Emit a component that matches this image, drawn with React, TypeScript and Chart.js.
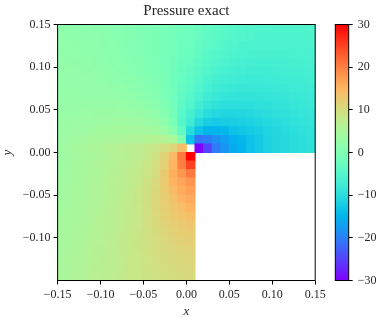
import React, { useEffect, useRef } from "react";
import { Chart, registerables } from "chart.js";

Chart.register(...registerables);

const chartTitle = "Pressure exact";
const xAxisLabel = "x";
const yAxisLabel = "y";
const xAxisTicks = [-0.15, -0.1, -0.05, 0, 0.05, 0.1, 0.15];
const yAxisTicks = [-0.1, -0.05, 0, 0.05, 0.1, 0.15];
const colorbarTicks = [-30, -20, -10, 0, 10, 20, 30];
const colorMin = -30;
const colorMax = 30;

const cellXCentres = [
  -0.145, -0.135, -0.125, -0.115, -0.105, -0.095, -0.085, -0.075, -0.065, -0.055,
  -0.045, -0.035, -0.025, -0.015, -0.005, 0.005, 0.015, 0.025, 0.035, 0.045,
  0.055, 0.065, 0.075, 0.085, 0.095, 0.105, 0.115, 0.125, 0.135, 0.145,
];
const cellYCentres = [
  0.145, 0.135, 0.125, 0.115, 0.105, 0.095, 0.085, 0.075, 0.065, 0.055,
  0.045, 0.035, 0.025, 0.015, 0.005, -0.005, -0.015, -0.025, -0.035, -0.045,
  -0.055, -0.065, -0.075, -0.085, -0.095, -0.105, -0.115, -0.125, -0.135, -0.145,
];

// Rows run from the top of the plot; null means an empty cell. The lower rows stop at x = 0.01.
const pressureRows: (number | null)[][] = [
  [1.8,1.7,1.6,1.5,1.4,1.2,1,0.7,0.4,0.1,-0.2,-0.6,-0.9,-1.3,-1.7,-1.9,-2.6,-3.3,-3.9,-4.4,-4.8,-5.1,-5.3,-5.5,-5.6,-5.7,-5.7,-5.7,-5.7,-5.6],
  [1.9,1.8,1.7,1.6,1.5,1.3,1,0.8,0.5,0.1,-0.2,-0.6,-1,-1.4,-1.9,-2.1,-2.9,-3.6,-4.2,-4.7,-5.1,-5.4,-5.6,-5.8,-5.9,-5.9,-5.9,-5.9,-5.9,-5.8],
  [2,1.9,1.8,1.7,1.6,1.4,1.1,0.8,0.5,0.2,-0.2,-0.6,-1,-1.5,-2.1,-2.3,-3.2,-4,-4.6,-5.1,-5.5,-5.8,-6,-6.1,-6.2,-6.2,-6.2,-6.2,-6.1,-6],
  [2.1,2,1.9,1.8,1.7,1.5,1.2,1,0.7,0.3,-0.1,-0.5,-1,-1.6,-2.2,-2.6,-3.5,-4.4,-5,-5.5,-5.9,-6.2,-6.4,-6.5,-6.5,-6.5,-6.5,-6.4,-6.4,-6.3],
  [2.2,2.1,2.1,2,1.8,1.6,1.4,1.1,0.8,0.5,0,-0.4,-1,-1.7,-2.4,-2.9,-3.9,-4.8,-5.5,-6,-6.4,-6.6,-6.8,-6.9,-6.9,-6.9,-6.8,-6.7,-6.6,-6.5],
  [2.3,2.3,2.2,2.1,2,1.8,1.6,1.3,1,0.7,0.2,-0.3,-0.9,-1.7,-2.7,-3.3,-4.4,-5.3,-6,-6.6,-6.9,-7.1,-7.3,-7.3,-7.3,-7.2,-7.1,-7,-6.9,-6.8],
  [2.4,2.4,2.3,2.3,2.2,2,1.8,1.6,1.3,0.9,0.5,-0.1,-0.8,-1.7,-2.9,-3.7,-4.9,-5.9,-6.7,-7.2,-7.5,-7.7,-7.8,-7.8,-7.7,-7.6,-7.5,-7.4,-7.3,-7.1],
  [2.5,2.5,2.5,2.5,2.4,2.3,2.1,1.9,1.6,1.2,0.8,0.2,-0.6,-1.7,-3.2,-4.2,-5.5,-6.6,-7.4,-7.9,-8.2,-8.3,-8.3,-8.3,-8.2,-8,-7.9,-7.7,-7.6,-7.4],
  [2.6,2.7,2.7,2.7,2.6,2.5,2.4,2.2,2,1.6,1.2,0.6,-0.3,-1.6,-3.6,-4.8,-6.2,-7.4,-8.2,-8.7,-8.9,-9,-9,-8.9,-8.7,-8.5,-8.3,-8.1,-7.9,-7.8],
  [2.7,2.8,2.9,2.9,2.9,2.8,2.8,2.6,2.4,2.2,1.8,1.1,0.2,-1.5,-4,-5.5,-7.2,-8.5,-9.2,-9.7,-9.8,-9.8,-9.7,-9.5,-9.3,-9,-8.8,-8.5,-8.3,-8.1],
  [2.9,3,3.1,3.1,3.2,3.2,3.2,3.1,3,2.8,2.5,1.9,0.7,-1.3,-4.5,-6.5,-8.5,-10,-10.7,-11,-11,-10.8,-10.6,-10.2,-9.9,-9.6,-9.3,-9,-8.7,-8.5],
  [3,3.2,3.3,3.4,3.5,3.6,3.7,3.7,3.7,3.6,3.4,2.9,1.8,-0.7,-5,-7.5,-10.5,-12,-12.5,-12.3,-12,-11.8,-11.5,-11,-10.6,-10.2,-9.8,-9.4,-9.1,-8.8],
  [3.2,3.4,3.6,3.8,4,4.1,4.3,4.4,4.5,4.5,4.5,4.2,3.3,0.8,-3.5,-10,-13.5,-15,-15,-14.5,-13.5,-13,-12.5,-12,-11.3,-10.8,-10.3,-9.8,-9.5,-9.2],
  [3.4,3.7,4,4.3,4.6,4.9,5.1,5.3,5.5,5.7,5.9,6,6,5,0,-13.5,-21,-20,-18.5,-17,-15.5,-14.5,-13.5,-12.5,-11.5,-11,-10.5,-10,-9.7,-9.3],
  [3.8,4.2,4.6,5,5.4,5.8,6.2,6.6,7,7.5,8,8.6,9.6,11,14,null,-30,-25,-20.5,-18,-16,-15,-13.5,-12.5,-11.5,-11,-10.5,-10,-9.8,-9.5],
  [3.6,4,4.4,4.8,5.2,5.6,6,6.4,6.9,7.5,8.2,9.2,11.5,14.5,20.5,30],
  [3.7,4.1,4.5,4.9,5.3,5.7,6.1,6.6,7.1,7.7,8.5,9.8,11.8,15,20,25],
  [3.8,4.2,4.6,5,5.4,5.8,6.3,6.8,7.3,8,8.9,10,12.5,15.5,18,20.5],
  [3.9,4.3,4.7,5.1,5.5,5.9,6.4,6.9,7.5,8.2,9.2,10.5,12.5,15,16.5,18],
  [4,4.4,4.8,5.2,5.6,6,6.5,7,7.6,8.4,9.4,10.7,12.4,14.2,15.8,17],
  [4.1,4.5,4.9,5.3,5.7,6.1,6.6,7.1,7.7,8.5,9.5,10.7,12.2,13.5,15,16],
  [4.2,4.6,5,5.4,5.8,6.2,6.7,7.2,7.8,8.6,9.5,10.7,11.9,13,14,15],
  [4.3,4.7,5.1,5.5,5.9,6.3,6.8,7.3,7.9,8.6,9.5,10.6,11.7,12.6,13.3,14],
  [4.4,4.8,5.2,5.6,6,6.4,6.9,7.4,8,8.6,9.5,10.5,11.2,12,12.7,13],
  [4.5,4.9,5.3,5.7,6.1,6.5,7,7.5,8.1,8.7,9.4,10.2,10.9,11.6,12.1,12.3],
  [4.6,5,5.4,5.8,6.2,6.6,7.1,7.6,8.1,8.7,9.3,10,10.6,11.2,11.6,11.8],
  [4.7,5.1,5.5,5.9,6.3,6.7,7.2,7.6,8.1,8.7,9.2,9.8,10.3,10.8,11.1,11.3],
  [4.8,5.2,5.6,6,6.4,6.8,7.2,7.7,8.2,8.6,9.1,9.6,10.1,10.5,10.8,11],
  [4.9,5.3,5.7,6.1,6.5,6.9,7.3,7.7,8.2,8.6,9.1,9.5,9.9,10.2,10.5,10.7],
  [5,5.4,5.8,6.2,6.6,7,7.4,7.8,8.2,8.6,9,9.3,9.6,9.9,10.2,10.4],
];

type Cell = { x: number; y: number; v: number };

const cells: Cell[] = [];
pressureRows.forEach((row, r) => {
  row.forEach((v, c) => {
    if (v !== null) cells.push({ x: cellXCentres[c], y: cellYCentres[r], v });
  });
});

// matplotlib "rainbow" colormap
function rainbow(t: number): string {
  const x = Math.max(0, Math.min(1, t));
  const r = Math.abs(2 * x - 0.5);
  const g = Math.sin(Math.PI * x);
  const b = Math.cos((Math.PI * x) / 2);
  const to255 = (c: number) => Math.round(Math.max(0, Math.min(1, c)) * 255);
  return `rgb(${to255(r)},${to255(g)},${to255(b)})`;
}
const colorFor = (v: number) => rainbow((v - colorMin) / (colorMax - colorMin));

const fontFamily = '"Liberation Serif", serif';
const textColor = "#262626";

const WIDTH = 387;
const HEIGHT = 317;
const plotLeft = 57.6;
const plotRight = 315.2;
const plotTop = 24.5;
const plotBottom = 280.5;
const barLeft = 335.3;
const barRight = 348.7;

const frame = {
  id: "frame",
  afterDraw(chart: any) {
    const { ctx, chartArea: a } = chart;
    ctx.save();
    ctx.strokeStyle = "#000";
    ctx.lineWidth = 1;
    ctx.strokeRect(a.left, a.top, a.right - a.left, a.bottom - a.top);
    ctx.restore();
  },
};

const tickFont = { family: fontFamily, size: 12 };
const tickGrid = {
  drawOnChartArea: false,
  drawTicks: true,
  tickLength: 4,
  tickColor: "#000",
  tickWidth: 1,
};
const fmt = (v: number) => (v < 0 ? "\u2212" : "") + Math.abs(v).toFixed(2);

export default function App() {
  const mainRef = useRef<HTMLCanvasElement>(null);
  const barRef = useRef<HTMLCanvasElement>(null);

  useEffect(() => {
    const main = new Chart(mainRef.current as HTMLCanvasElement, {
      type: "scatter",
      data: {
        datasets: [
          {
            label: "pressure",
            data: cells as any,
            pointStyle: "rect",
            pointBorderWidth: 0,
            pointBackgroundColor: (c: any) => colorFor(c.raw ? c.raw.v : 0),
            pointRadius: (c: any) => {
              const s = c.chart.scales.x;
              const w = Math.abs(s.getPixelForValue(0.01) - s.getPixelForValue(0));
              return (w + 1) / Math.SQRT2;
            },
          },
        ],
      },
      options: {
        responsive: false,
        animation: false,
        events: [],
        layout: { padding: { left: 0, top: 0, right: WIDTH - plotRight, bottom: 0 } },
        plugins: {
          legend: { display: false },
          tooltip: { enabled: false },
          title: {
            display: true,
            text: chartTitle,
            fullSize: false,
            color: textColor,
            font: { family: fontFamily, size: 15, weight: "normal", lineHeight: 1.2 },
            padding: { top: 2, bottom: 4.5 },
          },
        },
        scales: {
          x: {
            type: "linear",
            min: -0.15,
            max: 0.15,
            afterBuildTicks: (s: any) => {
              s.ticks = xAxisTicks.map((value) => ({ value }));
            },
            afterFit: (s: any) => {
              s.height = HEIGHT - plotBottom;
            },
            grid: tickGrid,
            border: { display: false },
            ticks: {
              color: textColor,
              font: tickFont,
              padding: 3,
              maxRotation: 0,
              autoSkip: false,
              callback: (v: any) => fmt(Number(v)),
            },
            title: {
              display: true,
              text: xAxisLabel,
              color: textColor,
              font: { family: fontFamily, size: 13, style: "italic", lineHeight: 0.8 },
              padding: 0,
            },
          },
          y: {
            type: "linear",
            min: -0.15,
            max: 0.15,
            afterBuildTicks: (s: any) => {
              s.ticks = yAxisTicks.map((value) => ({ value }));
            },
            afterFit: (s: any) => {
              s.width = plotLeft;
            },
            grid: tickGrid,
            border: { display: false },
            ticks: {
              color: textColor,
              font: tickFont,
              padding: 3,
              autoSkip: false,
              callback: (v: any) => fmt(Number(v)),
            },
            title: {
              display: true,
              text: yAxisLabel,
              color: textColor,
              font: { family: fontFamily, size: 13, style: "italic" },
              padding: 0,
            },
          },
        },
      } as any,
      plugins: [frame],
    });

    const bar = new Chart(barRef.current as HTMLCanvasElement, {
      type: "bar",
      data: {
        labels: ["colorbar"],
        datasets: [
          {
            data: [[colorMin, colorMax]] as any,
            barPercentage: 1,
            categoryPercentage: 1,
            borderWidth: 0,
            backgroundColor: (c: any) => {
              const a = c.chart.chartArea;
              if (!a) return "#000";
              const g = c.chart.ctx.createLinearGradient(0, a.bottom, 0, a.top);
              for (let i = 0; i <= 32; i++) g.addColorStop(i / 32, rainbow(i / 32));
              return g;
            },
          },
        ],
      },
      options: {
        responsive: false,
        animation: false,
        events: [],
        layout: {
          padding: { left: barLeft, top: plotTop, right: 0, bottom: HEIGHT - plotBottom },
        },
        plugins: { legend: { display: false }, tooltip: { enabled: false } },
        scales: {
          x: { display: false },
          y: {
            position: "right",
            min: colorMin,
            max: colorMax,
            afterBuildTicks: (s: any) => {
              s.ticks = colorbarTicks.map((value) => ({ value }));
            },
            afterFit: (s: any) => {
              s.width = WIDTH - barRight;
            },
            grid: tickGrid,
            border: { display: false },
            ticks: {
              color: textColor,
              font: tickFont,
              padding: 5,
              autoSkip: false,
              callback: (v: any) => (Number(v) < 0 ? "\u2212" : "") + Math.abs(Number(v)),
            },
          },
        },
      } as any,
      plugins: [frame],
    });

    return () => {
      main.destroy();
      bar.destroy();
    };
  }, []);

  const style: React.CSSProperties = { position: "fixed", left: 0, top: 0, display: "block" };
  return (
    <div style={{ position: "fixed", left: 0, top: 0, width: WIDTH, height: HEIGHT, background: "#fff" }}>
      <canvas ref={mainRef} width={WIDTH} height={HEIGHT} style={style} />
      <canvas ref={barRef} width={WIDTH} height={HEIGHT} style={style} />
    </div>
  );
}
